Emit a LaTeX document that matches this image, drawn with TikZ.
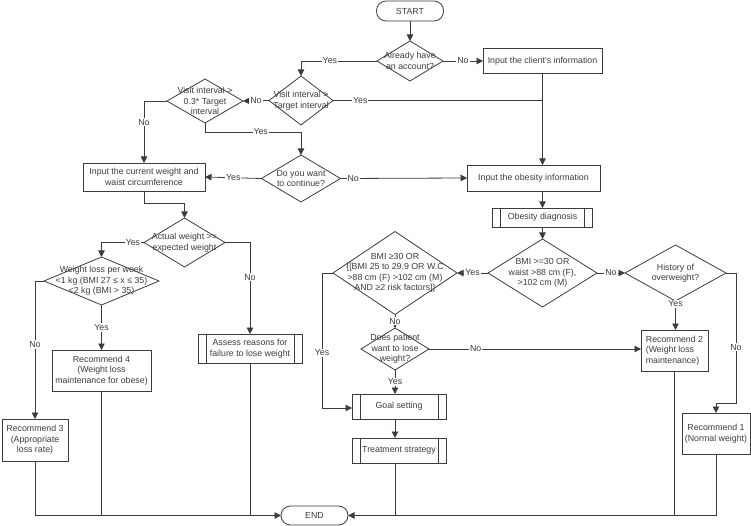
\documentclass[tikz,border=0pt]{standalone}
\usepackage{fontspec}
\setmainfont{Liberation Sans}
\usetikzlibrary{shapes.geometric,arrows.meta}
\definecolor{lineC}{RGB}{60,60,60}
\definecolor{textC}{RGB}{60,60,60}
\tikzset{
  base/.style={draw=lineC, line width=0.8pt, text=textC, font=\fontsize{8.8}{10.5}\selectfont, align=center, inner sep=0pt, outer sep=0pt},
  box/.style={base, rectangle},
  term/.style={base, rectangle, rounded corners=9.5pt},
  dia/.style={base, diamond},
  dtext/.style={text=textC, font=\fontsize{8.8}{10.5}\selectfont, align=center, inner sep=0pt},
  pp/.style={box, path picture={\draw[line width=0.8pt, draw=lineC]
     ([xshift=8pt]path picture bounding box.north west) -- ([xshift=8pt]path picture bounding box.south west)
     ([xshift=-8pt]path picture bounding box.north east) -- ([xshift=-8pt]path picture bounding box.south east);}},
  conn/.style={draw=lineC, line width=0.8pt},
  arr/.style={conn, -{Triangle[length=6.5pt,width=6.5pt]}},
  lbl/.style={fill=white, text=textC, font=\fontsize{8.8}{10}\selectfont, inner sep=1pt}
}
\begin{document}
\begin{tikzpicture}[x=1pt, y=-1pt]
\useasboundingbox (0,0) rectangle (751,526);
% nodes
\node[term, minimum width=67pt, minimum height=20pt] (start) at (410,11) {START};
\node[dia, minimum width=66pt, minimum height=40pt] (d1) at (410,61) {};
\node[dtext] (d1t) at (d1) {Already have\\an account?};
\node[box, minimum width=119pt, minimum height=25pt] (client) at (542.5,61) {Input the client's information};
\node[dia, minimum width=64pt, minimum height=49pt] (d2) at (301,100.5) {};
\node[dtext] (d2t) at (d2) {Visit interval >\\Target interval};
\node[dia, minimum width=76pt, minimum height=44pt] (d3) at (205,101) {};
\node[dtext] (d3t) at (d3) {Visit interval >\\0.3* Target\\interval};
\node[dia, minimum width=79pt, minimum height=47pt] (d4) at (301,178.5) {};
\node[dtext] (d4t) at (d4) {Do you want\\to continue?};
\node[box, minimum width=122pt, minimum height=28pt] (curw) at (144,177) {Input the current weight and\\waist circumference};
\node[box, minimum width=133pt, minimum height=26pt] (obinfo) at (533.5,178) {Input the obesity information};
\node[pp, minimum width=100pt, minimum height=19pt] (obdiag) at (542.5,217.5) {Obesity diagnosis};
\node[dia, minimum width=109pt, minimum height=68pt] (d5) at (542.5,273) {};
\node[dtext] (d5t) at (d5) {BMI >=30 OR\\waist >88 cm (F),\\>102 cm (M)};
\node[dia, minimum width=124pt, minimum height=83pt] (d6) at (395,273) {};
\node[dtext] (d6t) at (d6) {BMI ≥30 OR\\\{[BMI 25 to 29.9 OR W.C\\>88 cm (F) >102 cm (M)\\AND ≥2 risk factors]\}};
\node[dia, minimum width=101pt, minimum height=56pt] (d7) at (675.5,273) {};
\node[dtext] (d7t) at (d7) {History of\\overweight?};
\node[box, minimum width=67pt, minimum height=41pt, align=left] (rec2) at (674.5,350.5) {Recommend 2\\(Weight loss\\maintenance)};
\node[box, minimum width=68pt, minimum height=41pt] (rec1) at (716,433.5) {Recommend 1\\(Normal weight)};
\node[dia, minimum width=68pt, minimum height=42pt] (d8) at (395,349) {};
\node[dtext] (d8t) at (d8) {Does patient\\want to lose\\weight?};
\node[pp, minimum width=94pt, minimum height=25pt] (goal) at (399,406.5) {Goal setting};
\node[pp, minimum width=94pt, minimum height=25pt] (treat) at (399,450.5) {Treatment strategy};
\node[term, minimum width=67pt, minimum height=19pt] (endn) at (314.5,515.5) {END};
\node[dia, minimum width=81pt, minimum height=49pt] (d9) at (184.5,242.5) {};
\node[dtext] (d9t) at (d9) {Actual weight >=\\expected weight};
\node[dia, minimum width=115pt, minimum height=48pt] (d10) at (101.5,281) {};
\node[dtext] (d10t) at (d10) {Weight loss per week\\<1 kg (BMI 27 ≤ x ≤ 35)\\<2 kg (BMI > 35)};
\node[box, minimum width=66pt, minimum height=42pt] (rec3) at (35,440) {Recommend 3\\(Appropriate\\loss rate)};
\node[box, minimum width=99pt, minimum height=41pt] (rec4) at (101.5,370.5) {Recommend 4\\(Weight loss\\maintenance for obese)};
\node[pp, minimum width=104pt, minimum height=29pt] (assess) at (250,348.5) {Assess reasons for\\failure to lose weight};
% connectors
\draw[arr] (start) -- (d1);
\draw[arr] (d1.east) -- node[lbl]{No} (client.west);
\draw[arr] (d1.west) -- node[lbl, pos=0.62]{Yes} (d2.north |- d1.west) -- (d2.north);
\draw[conn] (d2.east) -- node[lbl, pos=0.13]{Yes} (client.south |- d2.east);
\draw[arr] (client.south) -- (client.south |- obinfo.north);
\draw[arr] (d2.west) -- node[lbl]{No} (d3.east);
\draw[arr] (d3.west) -| node[lbl, pos=0.67]{No} (curw.north);
\draw[arr] (d3.south) -- ++(0,9) -| node[lbl, pos=0.29]{Yes} (d4.north);
\draw[arr] (d4.west) -- node[lbl]{Yes} (curw.east);
\draw[arr] (d4.east) -- node[lbl, pos=0.1]{No} (obinfo.west);
\draw[arr] (obinfo.south -| obdiag.north) -- (obdiag.north);
\draw[arr] (obdiag.south) -- (d5.north);
\draw[arr] (d5.west) -- node[lbl]{Yes} (d6.east);
\draw[arr] (d5.east) -- node[lbl]{No} (d7.west);
\draw[arr] (d7.south) -- node[lbl, pos=0.1]{Yes} (d7.south |- rec2.north);
\draw[arr] (d7.east) -- (736,273) -- node[lbl, pos=0.57]{No} (736,403) -- (rec1.north |- 0,403) -- (rec1.north);
\draw[arr] (d6.south) -- node[lbl]{No} (d8.north);
\draw[arr] (d8.east) -- node[lbl, pos=0.22]{No} (rec2.west |- d8.east);
\draw[arr] (d8.south) -- node[lbl]{Yes} (d8.south |- goal.north);
\draw[arr] (d6.west) -- (322,273) -- node[lbl, pos=0.59]{Yes} (322,408) -- (goal.west |- 0,408);
\draw[arr] (d8.south |- goal.south) -- (d8.south |- treat.north);
\draw[arr] (rec1.south) -- (rec1.south |- endn.east) -- (endn.east);
\draw[conn] (rec2.south) -- (rec2.south |- endn.east);
\draw[conn] (d8.south |- treat.south) -- (d8.south |- endn.east);
\draw[arr] (curw.south) -- ++(0,12) -| (d9.north);
\draw[arr] (d9.west) -| node[lbl, pos=0.13]{Yes} (d10.north);
\draw[arr] (d10.west) -| node[lbl, pos=0.73]{No} (rec3.north);
\draw[arr] (d10.south) -- node[lbl]{Yes} (rec4.north);
\draw[arr] (d9.east) -| node[lbl, pos=0.69]{No} (assess.north);
\draw[arr] (rec3.south) -- (rec3.south |- endn.west) -- (endn.west);
\draw[conn] (rec4.south) -- (rec4.south |- endn.west);
\draw[conn] (assess.south) -- (assess.south |- endn.west);
\end{tikzpicture}
\end{document}
